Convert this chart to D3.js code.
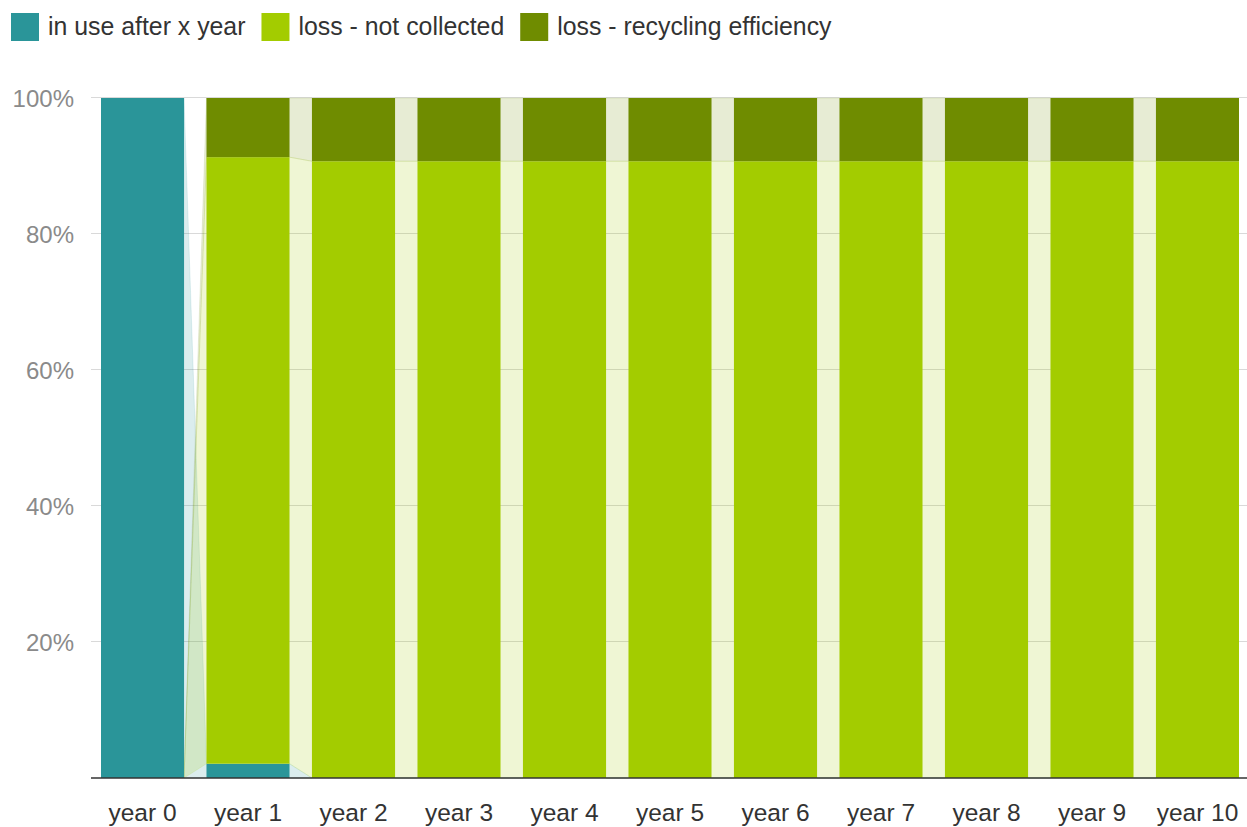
<!DOCTYPE html>
<html>
<head>
<meta charset="utf-8">
<script src="https://cdn.jsdelivr.net/npm/d3@7"></script>
<style>
  html, body { margin: 0; padding: 0; background: #fff; }
  svg text { font-family: "Liberation Sans", Arial, sans-serif; }
</style>
</head>
<body>
<svg id="chart" width="1247" height="827"></svg>
<script>
const categories = ["year 0", "year 1", "year 2", "year 3", "year 4", "year 5", "year 6", "year 7", "year 8", "year 9", "year 10"];
const seriesNames = ["in use after x year", "loss - not collected", "loss - recycling efficiency"];
const inUse = [100, 2.1, 0, 0, 0, 0, 0, 0, 0, 0, 0];
const notCollected = [null, 89.2, 90.7, 90.7, 90.7, 90.7, 90.7, 90.7, 90.7, 90.7, 90.7];
const recyclingLoss = [null, 8.7, 9.3, 9.3, 9.3, 9.3, 9.3, 9.3, 9.3, 9.3, 9.3];
const yTicks = [20, 40, 60, 80, 100];
const colors = ["#2a9599", "#a3cc00", "#6f8c00"];

const seriesValues = [inUse, notCollected, recyclingLoss];
const svg = d3.select("#chart");

const x = d3.scaleBand().domain(categories).range([89.75, 1250.25]).paddingInner(0.2133).paddingOuter(0.10665);
const y = d3.scaleLinear().domain([0, 100]).range([778, 98]);
const bw = x.bandwidth();

const stacks = seriesValues.map(() => []);
categories.forEach((c, i) => {
  let base = 0;
  seriesValues.forEach((vals, s) => {
    const v = vals[i];
    if (v == null) { stacks[s].push({y0: 0, y1: 0, empty: true}); }
    else { stacks[s].push({y0: base, y1: base + v, empty: false}); base += v; }
  });
});

// gridlines
svg.append("g").selectAll("line").data(yTicks).join("line")
  .attr("x1", 91).attr("x2", 1247)
  .attr("y1", d => Math.round(y(d)) - 0.5).attr("y2", d => Math.round(y(d)) - 0.5)
  .attr("stroke", "#d9d9d9").attr("stroke-width", 1);

// y labels
svg.append("g").selectAll("text").data(yTicks).join("text")
  .attr("x", 74).attr("y", d => y(d))
  .attr("dy", "0.36em")
  .attr("text-anchor", "end")
  .attr("font-size", 24)
  .attr("fill", "#8a8a8a")
  .text(d => d + "%");

// connectors
const connG = svg.append("g");
for (let i = 0; i < categories.length - 1; i++) {
  const xl = x(categories[i]) + bw;
  const xr = x(categories[i + 1]);
  seriesValues.forEach((vals, s) => {
    const a = stacks[s][i], b = stacks[s][i + 1];
    const pts = [[xl, y(a.y0)], [xl, y(a.y1)], [xr, y(b.y1)], [xr, y(b.y0)]];
    connG.append("path")
      .attr("d", d3.line()(pts) + "Z")
      .attr("fill", colors[s]).attr("fill-opacity", 0.17)
      .attr("stroke", colors[s]).attr("stroke-opacity", 0.12).attr("stroke-width", 1);
  });
}

// bars
seriesValues.forEach((vals, s) => {
  svg.append("g").selectAll("rect").data(categories).join("rect")
    .attr("x", c => x(c))
    .attr("width", bw)
    .attr("y", (c, i) => y(stacks[s][i].y1))
    .attr("height", (c, i) => y(stacks[s][i].y0) - y(stacks[s][i].y1))
    .attr("fill", colors[s]);
});

// x axis line
svg.append("line").attr("x1", 91).attr("x2", 1247).attr("y1", 778).attr("y2", 778)
  .attr("stroke", "#333").attr("stroke-width", 1.5);

// x labels
svg.append("g").selectAll("text").data(categories).join("text")
  .attr("x", c => x(c) + bw / 2).attr("y", 821)
  .attr("text-anchor", "middle")
  .attr("font-size", 24.5)
  .attr("fill", "#333")
  .text(d => d);

// legend
const leg = svg.append("g");
let lx = 11;
seriesNames.forEach((name, s) => {
  leg.append("rect").attr("x", lx).attr("y", 13).attr("width", 28).attr("height", 28)
    .attr("fill", colors[s]);
  const t = leg.append("text").attr("x", lx + 37).attr("y", 35)
    .attr("font-size", 24.85).attr("fill", "#333").text(name);
  lx = lx + 37 + t.node().getComputedTextLength() + 16;
});
</script>
</body>
</html>
